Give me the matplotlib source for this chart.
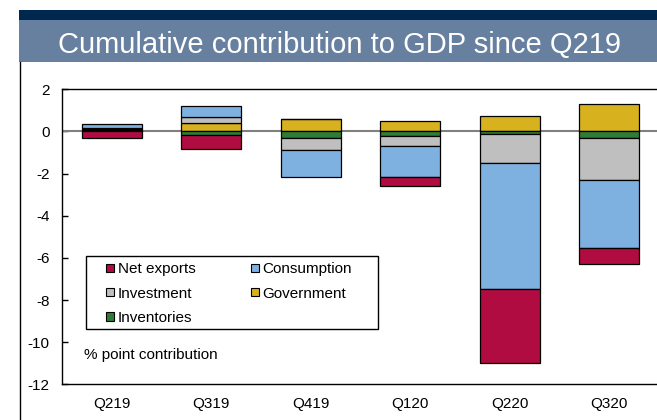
import matplotlib
matplotlib.use("Agg")
import matplotlib.pyplot as plt
from matplotlib.patches import Patch, Rectangle
from matplotlib.lines import Line2D
import numpy as np

plt.rcParams['font.family'] = ['Liberation Sans', 'DejaVu Sans']
plt.rcParams['axes.unicode_minus'] = False

# data (stacking order as drawn: closest to zero first)
quarters = ['Q219', 'Q319', 'Q419', 'Q120', 'Q220', 'Q320']
government = [0.08, 0.40, 0.60, 0.51, 0.71, 1.31]
inventories = [0.03, -0.19, -0.30, -0.20, -0.12, -0.31]
investment = [0.06, 0.28, -0.58, -0.49, -1.37, -2.00]
consumption = [0.20, 0.54, -1.27, -1.47, -6.00, -3.20]
net_exports = [-0.31, -0.62, 0.00, -0.44, -3.50, -0.78]

series = [
    ('Government', government, '#d7b21e'),
    ('Inventories', inventories, '#2e7d36'),
    ('Investment', investment, '#bfbfbf'),
    ('Consumption', consumption, '#7fb1e0'),
    ('Net exports', net_exports, '#b00c42'),
]
legend_order = ['Net exports', 'Investment', 'Inventories', 'Consumption', 'Government']

fig = plt.figure(figsize=(6.57, 4.2), dpi=100)

# header bands
fig.patches.append(Rectangle((19 / 657, 0.852), 1, 0.1, transform=fig.transFigure,
                             facecolor='#6780a0', edgecolor='none'))
fig.patches.append(Rectangle((19 / 657, 0.952), 1, 0.024, transform=fig.transFigure,
                             facecolor='#00284f', edgecolor='none'))
fig.lines.append(Line2D([19.5 / 657, 19.5 / 657], [0, 0.852], transform=fig.transFigure,
                        color='black', lw=1))
fig.text(0.516, 0.893, 'Cumulative contribution to GDP since Q219', color='white',
         fontsize=21, ha='center', va='center')

ax = fig.add_axes([62 / 657, 0.085, 597 / 657, 0.7024])
x = np.arange(len(quarters))
pos_bottom = np.zeros(len(quarters))
neg_bottom = np.zeros(len(quarters))
handles = {}
for name, vals, col in series:
    v = np.array(vals)
    bottom = np.where(v >= 0, pos_bottom, neg_bottom)
    ax.bar(x, v, 0.6, bottom=bottom, color=col, edgecolor='black', linewidth=0.9, zorder=3)
    pos_bottom = pos_bottom + np.clip(v, 0, None)
    neg_bottom = neg_bottom + np.clip(v, None, 0)
    handles[name] = Patch(facecolor=col, edgecolor='black', linewidth=0.8)

ax.axhline(0, color='#808080', lw=1.5, zorder=2)
ax.set_xlim(-0.5, 5.5)
ax.set_ylim(-12, 2)
ax.set_yticks(range(-12, 3, 2))
ax.set_xticks(x)
ax.set_xticklabels(quarters)
ax.tick_params(axis='y', direction='in', length=4, width=1, pad=9, labelsize=11)
ax.tick_params(axis='x', length=0, pad=9, labelsize=11)
for s in ['left', 'top', 'bottom', 'right']:
    ax.spines[s].set_linewidth(1)

leg = ax.legend([handles[n] for n in legend_order], legend_order, ncol=2,
                loc='upper left', bbox_to_anchor=(0.074, 0.413), frameon=False,
                fontsize=11, handlelength=0.5, handleheight=0.5,
                handletextpad=0.25, columnspacing=3.65, labelspacing=0.66,
                borderpad=0, borderaxespad=0)
ax.add_patch(Rectangle((0.041, 0.186), 0.488, 0.249, transform=ax.transAxes,
                       facecolor='none', edgecolor='black', lw=1, zorder=4))
ax.text(0.037, 0.098, '% point contribution', transform=ax.transAxes,
        fontsize=11, va='center', ha='left')

fig.savefig('out.png', dpi=100)
